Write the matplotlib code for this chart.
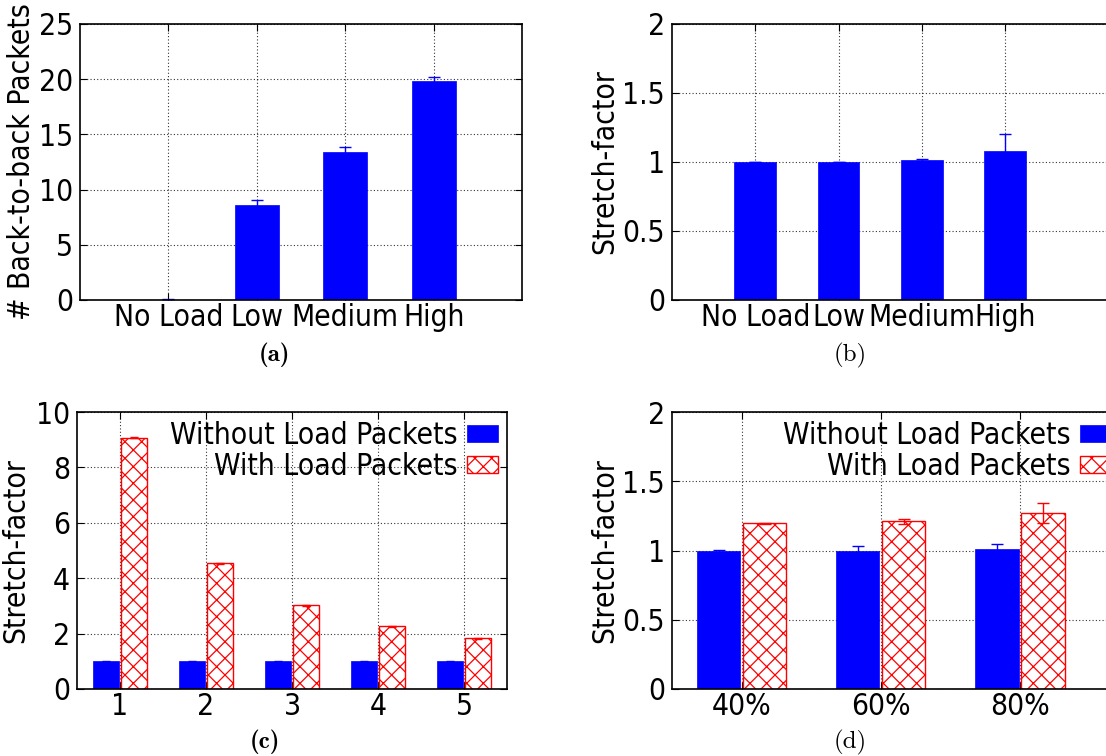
import matplotlib
matplotlib.use("Agg")
import matplotlib.pyplot as plt
from matplotlib.patches import Patch
import numpy as np

# ---------------- data ----------------
load_levels = ["No Load", "Low", "Medium", "High"]
b2b_packets = [0.0, 8.6, 13.4, 19.8]
b2b_err = [0.05, 0.5, 0.5, 0.4]

stretch_load = [1.0, 1.0, 1.015, 1.08]
stretch_load_err = [0.0, 0.0, 0.005, 0.12]

hops = [1, 2, 3, 4, 5]
hops_without = [1.0, 1.0, 1.0, 1.0, 1.0]
hops_without_err = [0.01, 0.01, 0.01, 0.01, 0.01]
hops_with = [9.07, 4.54, 3.02, 2.26, 1.83]
hops_with_err = [0.02, 0.02, 0.02, 0.02, 0.02]

util_labels = ["40%", "60%", "80%"]
util_without = [0.996, 1.0, 1.01]
util_without_err = [0.005, 0.03, 0.04]
util_with = [1.196, 1.21, 1.27]
util_with_err = [0.003, 0.02, 0.075]

legend_labels = ["Without Load Packets", "With Load Packets"]
captions = ["(a)", "(b)", "(c)", "(d)"]

# ---------------- style ----------------
W, H = 1106, 756
FS = 21.5
plt.rcParams['font.family'] = ['DejaVu Sans']
plt.rcParams['font.stretch'] = 'condensed'
plt.rcParams['hatch.linewidth'] = 0.9

fig = plt.figure(figsize=(W / 100, H / 100), dpi=100)


def ax_at(l, t, r, b):
    return fig.add_axes([l / W, 1 - b / H, (r - l) / W, (b - t) / H])


def style(ax):
    ax.set_axisbelow(True)
    ax.grid(True, ls=(0, (1, 2)), color='black', lw=0.8, alpha=0.8)
    ax.tick_params(direction='in', length=5, width=0.8, top=True, right=True,
                   labelsize=FS, pad=5)
    ax.tick_params(axis='x', pad=2)
    for s in ax.spines.values():
        s.set_linewidth(1.2)


BLUE = '#0000ff'
RED = '#ff0000'

# (a)
ax = ax_at(80, 24, 522, 300)
x = np.arange(len(load_levels))
ax.bar(x, b2b_packets, width=0.5, color=BLUE, edgecolor=BLUE, lw=0.5)
ax.errorbar(x, b2b_packets, yerr=b2b_err, fmt='none', ecolor=BLUE, elinewidth=1, capsize=4, capthick=1)
ax.set_xlim(-1, 4)
ax.set_ylim(0, 25)
ax.set_yticks(range(0, 26, 5))
ax.set_xticks(x)
ax.set_xticklabels(load_levels)
ax.set_ylabel("# Back-to-back Packets", fontsize=FS, labelpad=2)
style(ax)

# (b)
ax = ax_at(672, 24, 1120, 300)
ax.bar(x, stretch_load, width=0.5, color=BLUE, edgecolor=BLUE, lw=0.5)
ax.errorbar(x, stretch_load, yerr=stretch_load_err, fmt='none', ecolor=BLUE, elinewidth=1, capsize=4, capthick=1)
ax.set_xlim(-1, -1 + 448 / 83.33)
ax.set_ylim(0, 2)
ax.set_yticks([0, 0.5, 1, 1.5, 2])
ax.set_yticklabels(["0", "0.5", "1", "1.5", "2"])
ax.set_xticks(x)
ax.set_xticklabels(load_levels)
ax.set_ylabel("Stretch-factor", fontsize=FS, labelpad=2)
style(ax)


def legend(ax):
    handles = [Patch(facecolor=BLUE, edgecolor=BLUE, lw=0.5),
               Patch(facecolor='white', edgecolor=RED, hatch='xx', lw=1)]
    ax.legend(handles, legend_labels, loc='upper right', frameon=False,
              markerfirst=False, fontsize=FS, handlelength=1.05, handleheight=0.5,
              handletextpad=0.3, labelspacing=0.08, borderpad=0.0,
              borderaxespad=0.3)


# (c)
ax = ax_at(77, 412, 507, 689)
xc = np.array(hops, dtype=float)
ax.bar(xc - 0.16, hops_without, width=0.3, color=BLUE, edgecolor=BLUE, lw=0.5)
ax.bar(xc + 0.16, hops_with, width=0.3, color='white', edgecolor=RED, hatch='xx', lw=1)
ax.errorbar(xc - 0.16, hops_without, yerr=hops_without_err, fmt='none', ecolor=BLUE, elinewidth=1, capsize=3)
ax.errorbar(xc + 0.16, hops_with, yerr=hops_with_err, fmt='none', ecolor=RED, elinewidth=1, capsize=3)
ax.set_xlim(0.5, 5.5)
ax.set_ylim(0, 10)
ax.set_yticks(range(0, 11, 2))
ax.set_xticks(xc)
ax.set_xticklabels([str(h) for h in hops])
ax.set_ylabel("Stretch-factor", fontsize=FS, labelpad=4)
style(ax)
legend(ax)

# (d)
ax = ax_at(672, 412, 1120, 689)
xd = np.arange(len(util_labels))
ax.bar(xd - 0.165, util_without, width=0.31, color=BLUE, edgecolor=BLUE, lw=0.5)
ax.bar(xd + 0.165, util_with, width=0.31, color='white', edgecolor=RED, hatch='xx', lw=1)
ax.errorbar(xd - 0.165, util_without, yerr=util_without_err, fmt='none', ecolor=BLUE, elinewidth=1, capsize=4)
ax.errorbar(xd + 0.165, util_with, yerr=util_with_err, fmt='none', ecolor=RED, elinewidth=1, capsize=4)
ax.set_xlim(-0.5, -0.5 + 448 / 139.2)
ax.set_ylim(0, 2)
ax.set_yticks([0, 0.5, 1, 1.5, 2])
ax.set_yticklabels(["0", "0.5", "1", "1.5", "2"])
ax.set_xticks(xd)
ax.set_xticklabels(util_labels)
ax.set_ylabel("Stretch-factor", fontsize=FS, labelpad=2)
style(ax)
legend(ax)

# captions
cap_pos = [(274, 355, 'cmb10'), (850, 355, 'cmr10'), (265, 742, 'cmb10'), (850, 742, 'cmr10')]
for c, (cx, cy, fam) in zip(captions, cap_pos):
    fig.text(cx / W, 1 - cy / H, c, ha='center', va='center', fontsize=18,
             family=fam, stretch='normal')

fig.savefig("out.png", dpi=100)
